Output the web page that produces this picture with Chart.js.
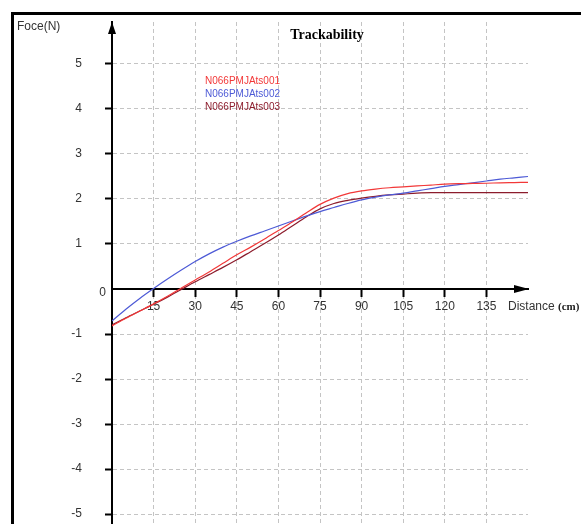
<!DOCTYPE html>
<html><head><meta charset="utf-8">
<script src="https://cdn.jsdelivr.net/npm/chart.js@4/dist/chart.umd.min.js"></script>
<style>html,body{margin:0;padding:0;background:#fff;}#wrap{width:581px;height:524px;position:relative;}</style>
</head><body><div id="wrap"><canvas id="c" width="581" height="524"></canvas></div>
<script>
const distance = [0,5,10,15,20,25,30,35,40,45,50,55,60,65,70,75,80,85,90,95,100,105,110,115,120,125,130,135,140,145,150];
const force001 = [-0.82,-0.65,-0.49,-0.33,-0.16,0.02,0.20,0.38,0.57,0.76,0.93,1.11,1.30,1.49,1.69,1.88,2.02,2.12,2.18,2.22,2.25,2.27,2.29,2.31,2.33,2.34,2.345,2.35,2.36,2.365,2.37];
const force002 = [-0.71,-0.45,-0.21,0.01,0.22,0.42,0.61,0.78,0.93,1.06,1.18,1.29,1.40,1.51,1.62,1.72,1.81,1.90,1.98,2.04,2.09,2.13,2.18,2.23,2.28,2.32,2.36,2.40,2.44,2.47,2.50];
const force003 = [-0.80,-0.64,-0.49,-0.34,-0.18,-0.01,0.16,0.32,0.48,0.65,0.83,1.01,1.20,1.40,1.60,1.78,1.90,1.97,2.02,2.06,2.09,2.11,2.13,2.14,2.14,2.14,2.14,2.14,2.14,2.14,2.14];
const seriesNames = ['N066PMJAts001','N066PMJAts002','N066PMJAts003'];
const seriesColors = ['#f23838','#4d5ad6','#8c1c2c'];
const xTickValues = [15,30,45,60,75,90,105,120,135];
const yTickValues = [-5,-4,-3,-2,-1,1,2,3,4,5];
const chartTitle = 'Trackability';
const yAxisTitle = 'Foce(N)';
const xAxisTitle = 'Distance';
const xAxisUnit = '(cm)';
const originLabel = '0';

const seriesValues = [force001, force002, force003];
const datasets = seriesValues.map((vals, i) => ({
  label: seriesNames[i],
  data: distance.map((d, j) => ({x: d, y: vals[j]})),
  borderColor: seriesColors[i],
  backgroundColor: seriesColors[i],
  borderWidth: 1.2,
  pointRadius: 0,
  cubicInterpolationMode: 'monotone',
  fill: false
}));

const SANS = '"Liberation Sans", Arial, sans-serif';
const decor = {
  id: 'decor',
  afterDraw(chart) {
    const ctx = chart.ctx;
    const ca = chart.chartArea;
    const xs = chart.scales.x, ys = chart.scales.y;
    const x0 = Math.round(xs.getPixelForValue(0));
    const y0 = Math.round(ys.getPixelForValue(0));
    ctx.save();
    ctx.fillStyle = '#000';
    ctx.fillRect(11, 12, 3, chart.height - 12);
    ctx.fillRect(11, 12, chart.width - 11, 3);
    ctx.beginPath();
    ctx.moveTo(x0, ca.top);
    ctx.lineTo(x0 - 4, ca.top + 12);
    ctx.lineTo(x0 + 4, ca.top + 12);
    ctx.closePath();
    ctx.fill();
    const xe = xs.getPixelForValue(150) + 1;
    ctx.beginPath();
    ctx.moveTo(xe, y0);
    ctx.lineTo(xe - 15, y0 - 4);
    ctx.lineTo(xe - 15, y0 + 4);
    ctx.closePath();
    ctx.fill();
    ctx.fillStyle = '#333';
    ctx.font = '12px ' + SANS;
    ctx.textAlign = 'right';
    ctx.textBaseline = 'middle';
    ctx.fillText(originLabel, 106, y0 + 4);
    ctx.textAlign = 'left';
    ctx.fillText(yAxisTitle, 17, 27);
    ctx.fillText(xAxisTitle, 508, y0 + 18);
    const w = ctx.measureText(xAxisTitle + ' ').width;
    ctx.font = 'bold 11px "Liberation Serif", "Times New Roman", serif';
    ctx.fillStyle = '#222';
    ctx.fillText(xAxisUnit, 508 + w, y0 + 18);
    ctx.fillStyle = '#000';
    ctx.font = 'bold 14px "Liberation Serif", "Times New Roman", serif';
    ctx.textAlign = 'center';
    ctx.fillText(chartTitle, 327, 35);
    ctx.font = '10px ' + SANS;
    ctx.textAlign = 'left';
    chart.data.datasets.forEach((ds, i) => {
      ctx.fillStyle = ds.borderColor;
      ctx.fillText(ds.label, 205, 81 + i * 13);
    });
    ctx.restore();
  }
};

new Chart(document.getElementById('c'), {
  type: 'line',
  data: {datasets},
  options: {
    responsive: false,
    animation: false,
    devicePixelRatio: 1,
    layout: {padding: {left: 0, top: 22, right: 53, bottom: 0}},
    plugins: {legend: {display: false}, title: {display: false}, tooltip: {enabled: false}},
    scales: {
      x: {
        type: 'linear', min: 0, max: 150,
        position: {y: 0},
        afterBuildTicks: s => { s.ticks = xTickValues.map(v => ({value: v})); },
        afterFit: s => { s.paddingLeft = 0; s.paddingRight = 0; },
        ticks: {autoSkip: false, maxRotation: 0, padding: 3, color: '#333', font: {family: SANS, size: 12}},
        grid: {color: '#c4c4c4', lineWidth: 1, tickLength: 7, tickColor: '#000', tickWidth: 2, tickBorderDash: []},
        border: {color: '#000', width: 2, dash: [4, 3]}
      },
      y: {
        type: 'linear', min: -5.222, max: 5.933,
        position: 'left',
        afterBuildTicks: s => { s.ticks = yTickValues.map(v => ({value: v})); },
        afterFit: s => { s.width = 112; s.paddingTop = 0; s.paddingBottom = 0; },
        ticks: {autoSkip: false, padding: 23, color: '#333', font: {family: SANS, size: 12}},
        grid: {color: '#c4c4c4', lineWidth: 1, tickLength: 7, tickColor: '#000', tickWidth: 2, tickBorderDash: []},
        border: {color: '#000', width: 2, dash: [4, 3]}
      }
    }
  },
  plugins: [decor]
});
</script></body></html>
